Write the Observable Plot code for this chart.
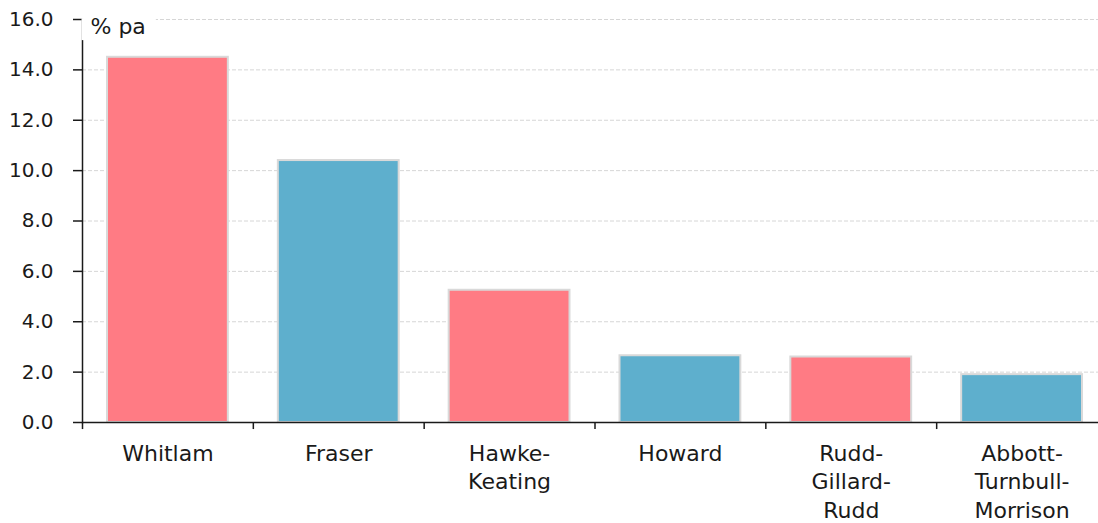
<!DOCTYPE html>
<html>
<head>
<meta charset="utf-8">
<script src="https://cdn.jsdelivr.net/npm/d3@7"></script>
<script src="https://cdn.jsdelivr.net/npm/@observablehq/plot@0.6"></script>
<style>
  html, body { margin: 0; padding: 0; background: #fff; }
  svg { display: block; }
</style>
</head>
<body>
<script>
// Average annual growth by government, % per annum
const governments = ["Whitlam", "Fraser", "Hawke-Keating", "Howard", "Rudd-Gillard-Rudd", "Abbott-Turnbull-Morrison"];
const growth = [14.5, 10.4, 5.25, 2.65, 2.6, 1.9];
const party = ["Labor", "Coalition", "Labor", "Coalition", "Labor", "Coalition"];
const yTicks = [0, 2, 4, 6, 8, 10, 12, 14, 16];
const unitLabel = "% pa";

const partyNames = ["Labor", "Coalition"];
const partyColors = ["#ff7b84", "#5eafcd"];

const rows = governments.map((name, i) => ({name, value: growth[i], party: party[i]}));

const width = 1098, height = 523;
const marginLeft = 82, marginTop = 19, marginBottom = 101;
// the last band runs a little past the right edge of the picture
const xRange = [marginLeft, 1107];
const step = (xRange[1] - xRange[0]) / governments.length;
const font = "'DejaVu Sans', 'Noto Sans', sans-serif";
const ink = "#1a1a1a";

const svg = Plot.plot({
  width, height,
  marginLeft, marginRight: 0, marginTop, marginBottom,
  style: {fontFamily: font, color: ink, background: "#fff"},
  x: {domain: governments, range: xRange, padding: 0, round: false},
  y: {domain: [0, 16]},
  color: {domain: partyNames, range: partyColors},
  marks: [
    Plot.gridY(yTicks, {stroke: "#d6d6d6", strokeOpacity: 1, strokeWidth: 1, strokeDasharray: "4,2"}),
    Plot.barY(rows, {
      x: "name", y: "value", fill: "party",
      stroke: "#d9d9d9", strokeWidth: 2,
      insetLeft: 25, insetRight: 25
    }),
    Plot.axisY(yTicks, {
      tickFormat: d => d.toFixed(1),
      tickSize: 9, tickPadding: 20,
      fontSize: 20, stroke: ink, strokeWidth: 1.5, fill: ink,
      label: null
    }),
    Plot.axisX({
      tickSize: 0, tickPadding: 18,
      fontSize: 22, lineHeight: 1.3, fill: ink,
      tickFormat: d => d.replace(/-/g, "-\n"),
      label: null
    }),
    // tick marks sit on the boundaries between governments
    Plot.ruleX(governments, {x: d => d, y1: 0, y2: -0.28, dx: -step / 2, stroke: ink, strokeWidth: 1.5}),
    Plot.ruleY([0], {stroke: ink, strokeWidth: 1.5}),
    Plot.frame({anchor: "left", stroke: ink, strokeWidth: 1.5}),
    Plot.text([unitLabel], {
      text: d => d, frameAnchor: "top-left", textAnchor: "start", lineAnchor: "top",
      dx: 8, dy: -1, fontSize: 22, fill: ink
    })
  ]
});

document.body.append(svg);

// white box behind the unit label, interrupting the axis and top gridline
const label = Array.from(svg.querySelectorAll("text"))
  .find(t => t.textContent === unitLabel);
if (label) {
  const b = label.getBBox();
  const box = document.createElementNS("http://www.w3.org/2000/svg", "rect");
  box.setAttribute("x", b.x - 9);
  box.setAttribute("y", b.y + 4);
  box.setAttribute("width", b.width + 19);
  box.setAttribute("height", b.height - 3);
  box.setAttribute("fill", "#fff");
  const t = label.getAttribute("transform");
  if (t) box.setAttribute("transform", t);
  const group = label.closest("g");
  const gt = group.getAttribute("transform");
  if (gt) box.setAttribute("transform", gt + " " + (t || ""));
  group.parentNode.insertBefore(box, group);
}
</script>
</body>
</html>
